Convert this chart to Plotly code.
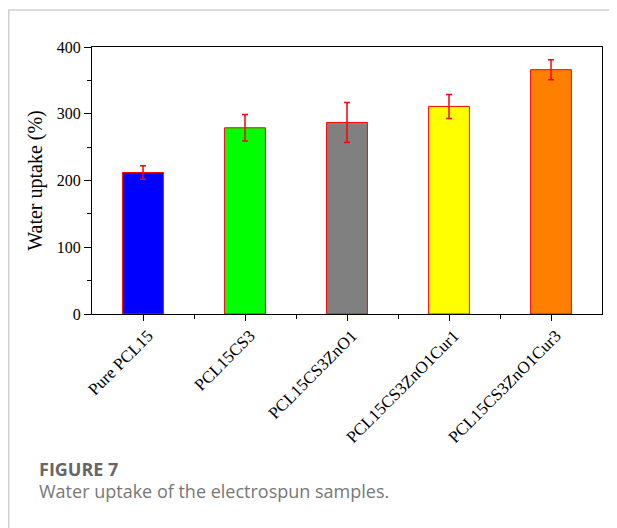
import plotly.graph_objects as go

categories = ["Pure PCL15", "PCL15CS3", "PCL15CS3ZnO1", "PCL15CS3ZnO1Cur1", "PCL15CS3ZnO1Cur3"]
values = [212, 279, 287, 311, 366]
errors = [10, 20, 30, 18, 15]
colors = ["#0000ff", "#00ff00", "#808080", "#ffff00", "#ff8000"]
y_ticks = [0, 100, 200, 300, 400]

# page body has an 8px margin, so the figure is drawn offset by (8, 8)
W, H = 609, 520
ML, MR, MT, MB = 84, 15, 39, 214
pw, ph = W - ML - MR, H - MT - MB

def px_x(x):
    return (x - ML) / pw

def px_y(y):
    return (H - MB - y) / ph

xs = list(range(len(categories)))

fig = go.Figure()
fig.add_trace(go.Bar(
    x=xs, y=values, width=0.4,
    marker=dict(color=colors, line=dict(color="#ff0000", width=1)),
    error_y=dict(type="data", array=errors, visible=True, color="#ff0000", thickness=1.5, width=3),
    showlegend=False,
))

font_serif = "Liberation Serif, Times New Roman, serif"

fig.update_layout(
    width=W, height=H,
    margin=dict(l=ML, r=MR, t=MT, b=MB),
    paper_bgcolor="white", plot_bgcolor="white",
    font=dict(family=font_serif, color="black", size=16),
    xaxis=dict(
        range=[-0.5, 4.5], tickmode="array", tickvals=xs, ticktext=categories,
        tickangle=-45, ticks="outside", ticklen=6, tickwidth=1, tickcolor="black",
        showline=True, linecolor="black", linewidth=1.3, mirror=True,
        showgrid=False, zeroline=False,
        tickfont=dict(family=font_serif, size=17),
        ticklabelshift=5, ticklabelstandoff=-2,
        minor=dict(tickmode="array", tickvals=[0.5, 1.5, 2.5, 3.5], ticks="outside", ticklen=4, tickcolor="black"),
    ),
    yaxis=dict(
        range=[0, 400], tickmode="array", tickvals=y_ticks,
        ticks="outside", ticklen=7, tickwidth=1, tickcolor="black",
        showline=True, linecolor="black", linewidth=1.3, mirror=True,
        showgrid=False, zeroline=False,
        tickfont=dict(family=font_serif, size=16),
        title=dict(text="Water uptake (%)", font=dict(family=font_serif, size=20), standoff=8),
        minor=dict(tickmode="array", tickvals=[50, 150, 250, 350], ticks="outside", ticklen=4, tickcolor="black"),
    ),
)

# frame lines (page border)
fig.add_shape(type="line", xref="paper", yref="paper",
              x0=px_x(0), x1=px_x(W), y0=px_y(2), y1=px_y(2),
              line=dict(color="#d0d0d0", width=1.5))
fig.add_shape(type="line", xref="paper", yref="paper",
              x0=px_x(0.75), x1=px_x(0.75), y0=px_y(2), y1=px_y(H),
              line=dict(color="#d0d0d0", width=1.5))

fig.add_annotation(text="<b>FIGURE 7</b>", xref="paper", yref="paper",
                   x=px_x(29), y=px_y(461), xanchor="left", yanchor="middle",
                   showarrow=False, font=dict(family="Open Sans, sans-serif", size=18, color="#666666"))
fig.add_annotation(text="Water uptake of the electrospun samples.", xref="paper", yref="paper",
                   x=px_x(29), y=px_y(483), xanchor="left", yanchor="middle",
                   showarrow=False, font=dict(family="Open Sans, sans-serif", size=18, color="#777777"))

fig.write_html("out.html")
